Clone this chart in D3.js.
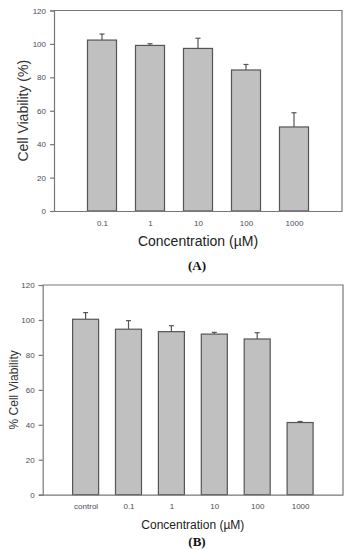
<!DOCTYPE html>
<html>
<head>
<meta charset="utf-8">
<script src="https://cdn.jsdelivr.net/npm/d3@7"></script>
<style>
  body { margin: 0; background: #fff; }
  svg { display: block; }
  .tick text { font-family: Arial, "Liberation Sans", sans-serif; fill: #4a4a5a; }
</style>
</head>
<body>
<script>
(function(){

  //panel A data
  var catsA = ["0.1", "1", "10", "100", "1000"];
  var meanA = [102.3, 99.1, 97.3, 84.4, 50.3];
  var errA = [3.6, 1.0, 6.1, 3.3, 8.5];

  //panel B data
  var catsB = ["control", "0.1", "1", "10", "100", "1000"];
  var meanB = [100.4, 94.7, 93.3, 91.9, 89.1, 41.3];
  var errB = [3.8, 4.9, 3.4, 1.0, 3.6, 0.6];

  var yTicks = [0, 20, 40, 60, 80, 100, 120];

  var svg = d3.select("body")
      .append("svg")
      .attr("width", 349)
      .attr("height", 550);

  //panel A
  drawPanel({
      cats: catsA, mean: meanA, err: errA,
      left: 54, right: 342, top: 10.5, bottom: 211,
      barW: 29, capW: 5, tickFont: 8, tickY: 12,
      yLabel: "Cell Viability (%)", yLabelX: 23, yLabelSize: 14,
      xLabel: "Concentration (\u00b5M)", xLabelY: 246, xLabelSize: 14,
      panel: "(A)", panelY: 270
  });

  //panel B
  drawPanel({
      cats: catsB, mean: meanB, err: errB,
      left: 42.7, right: 343, top: 285, bottom: 494.7,
      barW: 26, capW: 5, tickFont: 8, tickY: 12,
      yLabel: "% Cell Viability", yLabelX: 14, yLabelSize: 12,
      xLabel: "Concentration (\u00b5M)", xLabelY: 529, xLabelSize: 12,
      panel: "(B)", panelY: 546
  });

  function drawPanel(o){
      var n = o.cats.length;

      //categories sit at 1..n on a 0..n+1 linear scale
      var x = d3.scaleLinear()
          .domain([0, n + 1])
          .range([o.left, o.right]);

      var y = d3.scaleLinear()
          .domain([0, 120])
          .range([o.bottom, o.top]);

      var g = svg.append("g");

      //frame top and right
      g.append("path")
          .attr("d", "M" + o.left + "," + o.top + "H" + o.right + "V" + o.bottom)
          .attr("fill", "none")
          .attr("stroke", "#777")
          .attr("stroke-width", 1.2);

      //error bars (upper only)
      var eb = g.selectAll(".err")
          .data(o.mean)
          .enter()
          .append("g")
          .attr("stroke", "#555")
          .attr("stroke-width", 1.2);

      eb.append("line")
          .attr("x1", function(d, i){ return x(i + 1); })
          .attr("x2", function(d, i){ return x(i + 1); })
          .attr("y1", function(d){ return y(d); })
          .attr("y2", function(d, i){ return y(d + o.err[i]); });

      eb.append("line")
          .attr("x1", function(d, i){ return x(i + 1) - o.capW / 2; })
          .attr("x2", function(d, i){ return x(i + 1) + o.capW / 2; })
          .attr("y1", function(d, i){ return y(d + o.err[i]); })
          .attr("y2", function(d, i){ return y(d + o.err[i]); });

      //bars
      g.selectAll(".bar")
          .data(o.mean)
          .enter()
          .append("rect")
          .attr("x", function(d, i){ return x(i + 1) - o.barW / 2; })
          .attr("y", function(d){ return y(d); })
          .attr("width", o.barW)
          .attr("height", function(d){ return o.bottom - y(d); })
          .attr("fill", "#c0c0c0")
          .attr("stroke", "#555")
          .attr("stroke-width", 1.2);

      //y axis
      var yAxis = g.append("g")
          .attr("transform", "translate(" + o.left + ",0)")
          .call(d3.axisLeft(y).tickValues(yTicks).tickSize(4).tickPadding(4));
      yAxis.selectAll("line, path").attr("stroke", "#777").attr("stroke-width", 1.2);
      yAxis.selectAll("text").attr("font-size", o.tickFont);

      //x axis
      var xAxis = g.append("g")
          .attr("transform", "translate(0," + o.bottom + ")")
          .call(d3.axisBottom(x)
              .tickValues(d3.range(1, n + 1))
              .tickFormat(function(d){ return o.cats[d - 1]; })
              .tickSize(0)
              .tickPadding(o.tickY - 3));
      xAxis.select(".domain").attr("stroke", "#777").attr("stroke-width", 1.2);
      xAxis.selectAll("text").attr("font-size", o.tickFont);

      //axis titles
      g.append("text")
          .attr("transform", "translate(" + o.yLabelX + "," + ((o.top + o.bottom) / 2) + ") rotate(-90)")
          .attr("text-anchor", "middle")
          .attr("dy", "0.35em")
          .attr("font-family", "Arial, 'Liberation Sans', sans-serif")
          .attr("font-size", o.yLabelSize)
          .attr("fill", "#333")
          .text(o.yLabel);

      g.append("text")
          .attr("x", (o.left + o.right) / 2)
          .attr("y", o.xLabelY)
          .attr("text-anchor", "middle")
          .attr("font-family", "Arial, 'Liberation Sans', sans-serif")
          .attr("font-size", o.xLabelSize)
          .attr("fill", "#222")
          .text(o.xLabel);

      g.append("text")
          .attr("x", 197)
          .attr("y", o.panelY)
          .attr("text-anchor", "middle")
          .attr("font-family", "'Times New Roman', 'Liberation Serif', serif")
          .attr("font-weight", "bold")
          .attr("font-size", 13)
          .attr("fill", "#111")
          .text(o.panel);
  };

})();
</script>
</body>
</html>
